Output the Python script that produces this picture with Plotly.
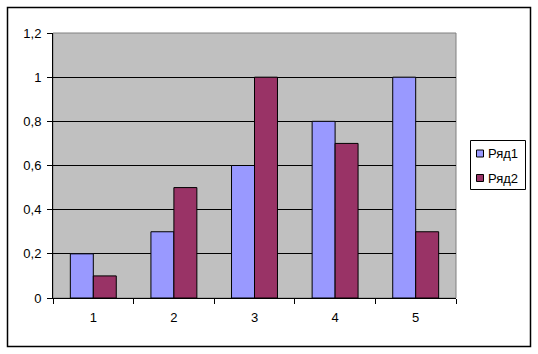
import plotly.graph_objects as go

categories = [1, 2, 3, 4, 5]
series1 = [0.2, 0.3, 0.6, 0.8, 1.0]
series2 = [0.1, 0.5, 1.0, 0.7, 0.3]
names = ["Ряд1", "Ряд2"]
colors = ["#9999FF", "#993366"]
y_tickvals = [0, 0.2, 0.4, 0.6, 0.8, 1.0, 1.2]
y_ticktext = ["0", "0,2", "0,4", "0,6", "0,8", "1", "1,2"]

W, H = 538, 354
L, R, T, B = 53, 456, 33, 298

fig = go.Figure()
for name, vals, col in zip(names, [series1, series2], colors):
    fig.add_trace(go.Bar(x=categories, y=vals, name=name, showlegend=False,
                         marker=dict(color=col, line=dict(color="black", width=1))))

pw, ph = R - L, B - T
def px(x):
    return (x - L) / pw
def py(y):
    return (B - y) / ph

shapes = [
    dict(type="rect", xref="paper", yref="paper", x0=0, x1=1, y0=0, y1=1,
         line=dict(color="#808080", width=1), layer="below"),
    dict(type="rect", xref="paper", yref="paper",
         x0=px(7.5), x1=px(530.5), y0=py(346.5), y1=py(7.5),
         line=dict(color="black", width=1.5)),
    # legend box
    dict(type="rect", xref="paper", yref="paper",
         x0=px(470.5), x1=px(525.5), y0=py(189.5), y1=py(140.5),
         line=dict(color="black", width=1), fillcolor="white"),
]
annotations = []
item_y = [153.5, 178]
for name, col, yc in zip(names, colors, item_y):
    shapes.append(dict(type="rect", xref="paper", yref="paper",
                       x0=px(476.5), x1=px(483.5), y0=py(yc + 3.5), y1=py(yc - 3.5),
                       line=dict(color="black", width=1), fillcolor=col))
    annotations.append(dict(xref="paper", yref="paper", x=px(486), y=py(yc),
                            xanchor="left", yanchor="middle", text=name, showarrow=False,
                            font=dict(size=13)))

fig.update_layout(
    width=W, height=H,
    margin=dict(l=L, r=W - R, t=T, b=H - B, pad=0, autoexpand=False),
    paper_bgcolor="white", plot_bgcolor="#C0C0C0",
    font=dict(family="Liberation Sans, Arial, sans-serif", size=13, color="black"),
    barmode="group", bargap=0.43, bargroupgap=0,
    showlegend=False,
    xaxis=dict(range=[0.5, 5.5], tickvals=categories, ticktext=[str(c) for c in categories],
               ticks="", showgrid=False, zeroline=False, showline=True, linecolor="black",
               linewidth=1, ticklabelstandoff=7, automargin=False,
               minor=dict(tickvals=[0.5, 1.5, 2.5, 3.5, 4.5, 5.5], ticks="outside",
                          ticklen=5, tickcolor="black", showgrid=False)),
    yaxis=dict(range=[0, 1.2], tickvals=y_tickvals, ticktext=y_ticktext,
               ticks="outside", ticklen=5, tickcolor="black", showgrid=True,
               gridcolor="black", gridwidth=1, zeroline=False, showline=True,
               linecolor="black", linewidth=1, ticklabelstandoff=3, automargin=False),
    shapes=shapes,
    annotations=annotations,
)

fig.write_html("out.html")
